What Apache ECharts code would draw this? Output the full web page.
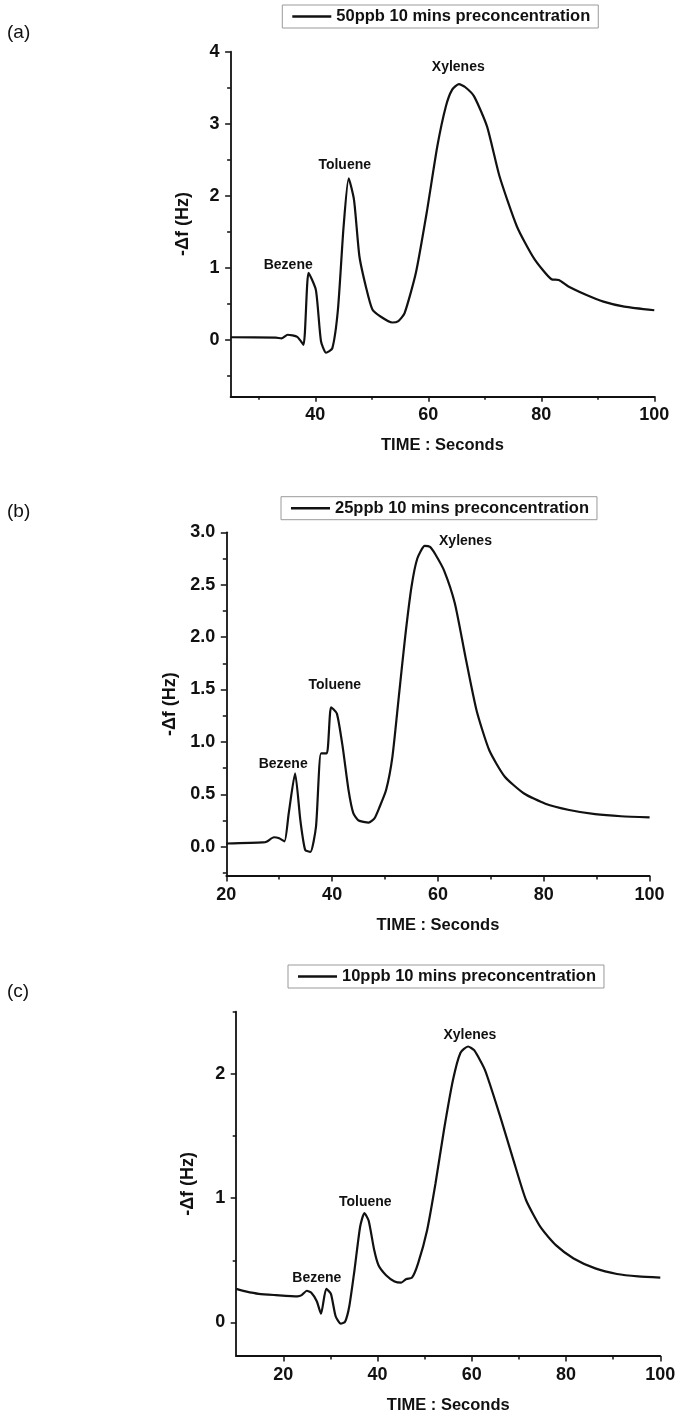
<!DOCTYPE html>
<html><head><meta charset="utf-8">
<script src="https://cdn.jsdelivr.net/npm/echarts@6/dist/echarts.min.js"></script>
<style>html,body{margin:0;padding:0;background:#fff}#c{width:676px;height:1416px}</style>
</head><body><div id="c"></div>
<script>
// ---------- Panel (a): 50 ppb ----------
const legendA = '50ppb 10 mins preconcentration';
const timeA  = [25, 33, 34, 35.1, 36.8, 37.9, 38.8, 40.1, 41.0, 41.9, 43.0, 44.0, 45.0, 45.9, 46.85, 47.8, 49.0, 50.1, 51.6, 53.6, 54.7, 55.8, 57.8, 59.7, 61.6, 63.1, 64.2, 65.4, 66.5, 68.1, 70.4, 72.6, 75.7, 78.7, 81.8, 83.1, 84.8, 87.9, 91, 94.7, 100];
const valueA = [0.035, 0.03, 0.02, 0.07, 0.04, -0.07, 0.93, 0.69, -0.02, -0.18, -0.12, 0.42, 1.57, 2.24, 1.94, 1.16, 0.72, 0.42, 0.32, 0.24, 0.26, 0.37, 0.93, 1.76, 2.69, 3.24, 3.47, 3.55, 3.51, 3.38, 2.96, 2.27, 1.57, 1.13, 0.84, 0.83, 0.74, 0.625, 0.53, 0.46, 0.41];
const xTicksA = [40, 60, 80, 100];
const xMinorA = [30, 50, 70, 90];
const yTicksA = [0, 1, 2, 3, 4];
const yMinorA = [-0.5, 0.5, 1.5, 2.5, 3.5];
const labelXA = [35.2, 45.2, 65.3];
const labelYA = [1.04, 2.43, 3.79];

// ---------- Panel (b): 25 ppb ----------
const legendB = '25ppb 10 mins preconcentration';
const timeB  = [20, 26.9, 27.7, 29.0, 30.0, 31.0, 31.8, 33.0, 34.0, 34.9, 35.9, 36.95, 37.9, 39.0, 39.8, 40.9, 42.0, 43.1, 44.0, 45.0, 46.9, 48.0, 48.9, 50.2, 51.4, 52.6, 53.8, 55.0, 56.1, 57.5, 58.5, 59.5, 61.2, 63.2, 65.2, 67.3, 69.7, 72.6, 76.2, 80.3, 84.8, 89.7, 94.6, 100];
const valueB = [0.03, 0.04, 0.05, 0.09, 0.08, 0.05, 0.32, 0.70, 0.25, -0.03, -0.05, 0.19, 0.89, 0.89, 1.33, 1.27, 0.95, 0.54, 0.32, 0.25, 0.23, 0.27, 0.37, 0.54, 0.86, 1.43, 2.00, 2.48, 2.75, 2.87, 2.86, 2.79, 2.63, 2.32, 1.81, 1.30, 0.92, 0.67, 0.51, 0.41, 0.35, 0.31, 0.29, 0.28];
const xTicksB = [20, 40, 60, 80, 100];
const xMinorB = [30, 50, 70, 90];
const yTicksB = [0, 0.5, 1, 1.5, 2, 2.5, 3];
const yMinorB = [-0.25, 0.25, 0.75, 1.25, 1.75, 2.25, 2.75];
const labelXB = [30.75, 40.5, 65.2];
const labelYB = [0.79, 1.54, 2.92];

// ---------- Panel (c): 10 ppb ----------
const legendC = '10ppb 10 mins preconcentration';
const timeC  = [10, 12, 14.8, 18.4, 23.0, 23.9, 25.0, 25.9, 27.1, 28.0, 29.1, 30.1, 31.1, 32.2, 33.1, 34.0, 35.1, 36.3, 37.2, 38.1, 39.3, 40.2, 41.8, 43.6, 45.0, 46.1, 47.3, 48.6, 50.5, 52.3, 54.1, 56.0, 57.6, 59.2, 60.5, 62.8, 66.0, 68.8, 71.5, 74.7, 77.9, 81.6, 86.2, 90.8, 95.3, 100];
const valueC = [0.27, 0.25, 0.23, 0.22, 0.21, 0.22, 0.255, 0.24, 0.17, 0.07, 0.27, 0.23, 0.05, -0.01, 0.005, 0.13, 0.42, 0.77, 0.88, 0.82, 0.58, 0.46, 0.38, 0.33, 0.32, 0.35, 0.36, 0.475, 0.74, 1.12, 1.55, 1.95, 2.17, 2.22, 2.19, 2.03, 1.66, 1.31, 0.985, 0.76, 0.62, 0.515, 0.435, 0.39, 0.37, 0.36];
const xTicksC = [20, 40, 60, 80, 100];
const xMinorC = [30, 50, 70, 90];
const yTicksC = [0, 1, 2];
const yMinorC = [0.5, 1.5, 2.5];
const labelXC = [27.1, 37.4, 59.6];
const labelYC = [0.36, 0.97, 2.31];

const peakNames = ['Bezene', 'Toluene', 'Xylenes'];
const xTitle = 'TIME : Seconds';
const yTitle = '-\u0394f (Hz)';

// ---------- layout / style ----------
const FONT = "'Liberation Sans', Arial, Helvetica, sans-serif";
const INK = '#111';

const panels = [
  {tag:'(a)', tagY:34, name:legendA, time:timeA, value:valueA, xMajor:xTicksA, xMinor:xMinorA, yMajor:yTicksA, yMinor:yMinorA, lx:labelXA, ly:labelYA,
   grid:{left:230.6, top:51.7, width:423.7, height:344.6}, xMin:25, xMax:100, yMin:-0.785, yMax:4, dec:0, yNameGap:38.5, legend:{left:282.3, top:5}},
  {tag:'(b)', tagY:513, name:legendB, time:timeB, value:valueB, xMajor:xTicksB, xMinor:xMinorB, yMajor:yTicksB, yMinor:yMinorB, lx:labelXB, ly:labelYB,
   grid:{left:226.3, top:532.3, width:423.3, height:343.7}, xMin:20, xMax:100, yMin:-0.28, yMax:3, dec:1, yNameGap:40.5, legend:{left:281, top:496.7}},
  {tag:'(c)', tagY:993, name:legendC, time:timeC, value:valueC, xMajor:xTicksC, xMinor:xMinorC, yMajor:yTicksC, yMinor:yMinorC, lx:labelXC, ly:labelYC,
   grid:{left:236.2, top:1011.7, width:424.1, height:344.3}, xMin:10, xMax:100, yMin:-0.27, yMax:2.5, dec:0, yNameGap:39, legend:{left:288, top:965}}
];

const grid = [], xAxis = [], yAxis = [], series = [], legend = [], graphic = [];
const tickStyle = {color: INK, width: 1.5};

panels.forEach((p, i) => {
  grid.push(Object.assign({outerBoundsMode: 'none', containLabel: false}, p.grid));
  xAxis.push({
    type: 'value', gridIndex: i, position: 'bottom', min: p.xMin, max: p.xMax,
    name: xTitle, nameLocation: 'middle', nameGap: 41,
    nameTextStyle: {fontFamily: FONT, fontSize: 16.5, fontWeight: 'bold', color: INK},
    axisLine: {show: true, onZero: false, lineStyle: {color: INK, width: 1.8}},
    axisTick: {show: true, customValues: p.xMajor, length: 5.5, lineStyle: tickStyle},
    axisLabel: {show: true, customValues: p.xMajor, margin: 10, fontFamily: FONT, fontSize: 18, fontWeight: 'bold', color: INK},
    splitLine: {show: false}
  });
  xAxis.push({
    type: 'value', gridIndex: i, position: 'bottom', min: p.xMin, max: p.xMax,
    axisLine: {show: false, onZero: false},
    axisTick: {show: true, customValues: p.xMinor, length: 3.5, lineStyle: tickStyle},
    axisLabel: {show: false}, splitLine: {show: false}
  });
  yAxis.push({
    type: 'value', gridIndex: i, position: 'left', min: p.yMin, max: p.yMax,
    name: yTitle, nameLocation: 'middle', nameRotate: 90, nameGap: p.yNameGap,
    nameTextStyle: {fontFamily: FONT, fontSize: 18, fontWeight: 'bold', color: INK},
    axisLine: {show: true, onZero: false, lineStyle: {color: INK, width: 1.8}},
    axisTick: {show: true, customValues: p.yMajor, length: 5.5, lineStyle: tickStyle},
    axisLabel: {show: true, customValues: p.yMajor, margin: 11, fontFamily: FONT, fontSize: 18, fontWeight: 'bold', color: INK,
      formatter: (v => Number(v).toFixed(p.dec))},
    splitLine: {show: false}
  });
  yAxis.push({
    type: 'value', gridIndex: i, position: 'left', min: p.yMin, max: p.yMax,
    axisLine: {show: false, onZero: false},
    axisTick: {show: true, customValues: p.yMinor, length: 3.5, lineStyle: tickStyle},
    axisLabel: {show: false}, splitLine: {show: false}
  });

  series.push({
    type: 'line', name: p.name, xAxisIndex: 2 * i, yAxisIndex: 2 * i,
    data: p.time.map((t, k) => [t, p.value[k]]),
    showSymbol: false, symbol: 'none', smooth: 0.2, color: INK,
    lineStyle: {color: INK, width: 2.2}, itemStyle: {color: INK},
    z: 5, silent: true, animation: false
  });
  series.push({
    type: 'scatter', name: 'peaks' + i, xAxisIndex: 2 * i, yAxisIndex: 2 * i,
    data: peakNames.map((n, k) => [p.lx[k], p.ly[k], n]),
    symbol: 'circle', symbolSize: 1, itemStyle: {color: 'rgba(255,255,255,0)', opacity: 1},
    silent: true, animation: false, z: 6,
    label: {show: true, position: 'inside', formatter: q => q.value[2], opacity: 1,
      textBorderWidth: 0, fontFamily: FONT, fontSize: 14, fontWeight: 'bold', color: INK}
  });
  legend.push({
    data: [p.name], left: p.legend.left, top: p.legend.top, orient: 'horizontal',
    icon: 'rect', itemWidth: 39, itemHeight: 2.4, itemGap: 0,
    padding: [3, 8, 3, 10], borderColor: '#9a9a9a', borderWidth: 1, backgroundColor: '#fff',
    selectedMode: false, itemStyle: {color: INK},
    textStyle: {fontFamily: FONT, fontSize: 16.5, fontWeight: 'bold', color: INK}
  });
  graphic.push({
    type: 'text', left: 7, top: p.tagY - 11,
    style: {text: p.tag, fontFamily: FONT, fontSize: 19, fill: INK}
  });
});

const chart = echarts.init(document.getElementById('c'), null, {renderer: 'canvas'});
chart.setOption({
  backgroundColor: '#fff', animation: false,
  grid, xAxis, yAxis, series, legend, graphic
});
</script>
</body></html>
